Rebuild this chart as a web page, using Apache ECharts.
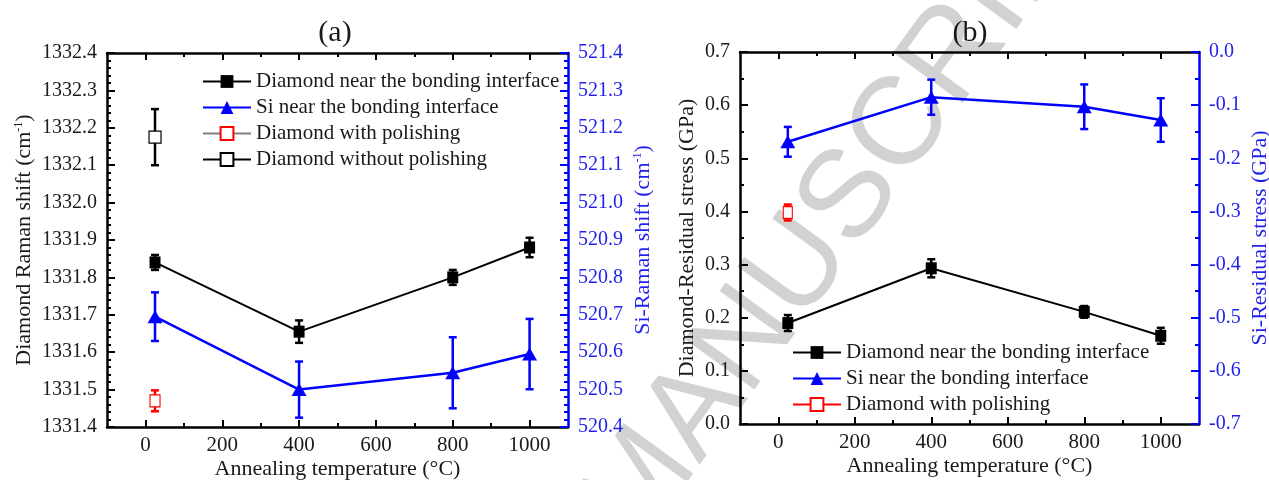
<!DOCTYPE html>
<html><head><meta charset="utf-8">
<script src="https://cdn.jsdelivr.net/npm/echarts@6/dist/echarts.min.js"></script>
<style>html,body{margin:0;padding:0;background:#fff}#c{width:1269px;height:480px}</style>
</head><body><div id="c"></div>
<script>
// ---------- data ----------
const temps = [25, 400, 800, 1000];
const singleTemp = [25];
const xMajorTicks = [0, 200, 400, 600, 800, 1000];
const xMinorTicks = [100, 300, 500, 700, 900];

// panel (a): Raman shift
const aDiamond = [1331.84, 1331.655, 1331.80, 1331.88];
const aDiamondErr = [0.02, 0.03, 0.02, 0.026];
const aSi = [520.695, 520.50, 520.545, 520.595];
const aSiErr = [0.065, 0.075, 0.095, 0.094];
const aPolished = [1331.47];
const aPolishedErr = [0.028];
const aUnpolished = [1332.175];
const aUnpolishedErr = [0.075];

// panel (b): residual stress
const bDiamond = [0.19, 0.293, 0.211, 0.166];
const bDiamondErr = [0.015, 0.017, 0.011, 0.015];
const bSi = [-0.169, -0.085, -0.103, -0.128];
const bSiErr = [0.028, 0.033, 0.042, 0.041];
const bPolished = [0.398];
const bPolishedErr = [0.015];

const N1 = 'Diamond near the bonding interface';
const N2 = 'Si near the bonding interface';
const N3 = 'Diamond with polishing';
const N4 = 'Diamond without polishing';
const B = ' '; // suffix to keep panel (b) legend independent

// ---------- style ----------
const SERIF = '"Liberation Serif", "Times New Roman", serif';
const INK = '#1a1a1a';
const BLUE = '#0000ff';
const BLUE_TXT = '#1f1fee';

function xAxes(g) {
  const base = {
    type: 'value', gridIndex: g, min: -100, max: 1100, interval: 100,
    splitLine: {show: false}, minorTick: {show: false}, minorSplitLine: {show: false}
  };
  return [
    Object.assign({}, base, {
      position: 'bottom',
      name: 'Annealing temperature (°C)', nameLocation: 'middle', nameGap: 31,
      nameTextStyle: {fontFamily: SERIF, fontSize: 22, color: INK},
      nameMoveOverlap: false,
      axisLine: {show: true, onZero: false, lineStyle: {color: '#000', width: 2.5}},
      axisTick: {show: true, inside: true, length: 7, customValues: xMajorTicks, lineStyle: {color: '#000', width: 2}},
      axisLabel: {show: true, margin: 8, customValues: xMajorTicks, fontFamily: SERIF, fontSize: 21, color: INK,
        formatter: v => String(Math.round(v))}
    }),
    Object.assign({}, base, {
      position: 'bottom',
      axisLine: {show: false, onZero: false},
      axisTick: {show: true, inside: true, length: 4, customValues: xMinorTicks, lineStyle: {color: '#000', width: 2}},
      axisLabel: {show: false}
    }),
    Object.assign({}, base, {
      position: 'top',
      axisLine: {show: true, onZero: false, lineStyle: {color: '#000', width: 2.5}},
      axisTick: {show: true, inside: true, length: 7, customValues: xMajorTicks, lineStyle: {color: '#000', width: 2}},
      axisLabel: {show: false}
    }),
    Object.assign({}, base, {
      position: 'top',
      axisLine: {show: false, onZero: false},
      axisTick: {show: true, inside: true, length: 4, customValues: xMinorTicks, lineStyle: {color: '#000', width: 2}},
      axisLabel: {show: false}
    })
  ];
}

function yAxis(g, pos, min, max, minorSplit, name, nameGap, color, txtColor) {
  return {
    type: 'value', gridIndex: g, position: pos, min: min, max: max, interval: 0.1,
    name: name, nameLocation: 'middle', nameGap: nameGap, nameRotate: 90, nameMoveOverlap: false,
    nameTextStyle: {fontFamily: SERIF, fontSize: 22, color: txtColor,
      rich: {sup: {fontFamily: SERIF, fontSize: 12, color: txtColor, verticalAlign: 'top', lineHeight: 22, padding: [0, 0, 8, 0]}}},
    splitLine: {show: false}, minorSplitLine: {show: false},
    axisLine: {show: true, onZero: false, lineStyle: {color: color, width: 2.5}},
    axisTick: {show: true, inside: true, length: 8, lineStyle: {color: color, width: 2}},
    minorTick: {show: true, splitNumber: minorSplit, length: 4, lineStyle: {color: color, width: 2}},
    axisLabel: {show: true, margin: 10, fontFamily: SERIF, fontSize: 20, color: txtColor,
      formatter: v => v.toFixed(1)}
  };
}

function pts(xs, ys) { return xs.map((x, i) => [x, ys[i]]); }

function lineS(name, xs, ys, xi, yi, o) {
  return {
    type: 'line', name: name, xAxisIndex: xi, yAxisIndex: yi, z: 5,
    data: pts(xs, ys), animation: false, silent: true,
    symbol: o.symbol, symbolSize: o.size, showSymbol: true, showAllSymbol: true,
    lineStyle: {color: o.lineColor, width: o.lineWidth},
    itemStyle: {color: o.fill, borderColor: o.stroke, borderWidth: o.borderWidth || 0, opacity: 1},
    emphasis: {disabled: true}
  };
}

function errBar(xs, ys, es, color, lw, xi, yi, cap) {
  return {
    type: 'custom', xAxisIndex: xi, yAxisIndex: yi, z: 4, silent: true, animation: false,
    data: xs.map((x, i) => [x, ys[i] - es[i], ys[i] + es[i]]),
    encode: {x: 0, y: [1, 2]},
    renderItem: (params, api) => {
      const lo = api.coord([api.value(0), api.value(1)]);
      const hi = api.coord([api.value(0), api.value(2)]);
      const st = {stroke: color, lineWidth: lw};
      return {type: 'group', children: [
        {type: 'line', shape: {x1: lo[0], y1: lo[1], x2: hi[0], y2: hi[1]}, style: st},
        {type: 'line', shape: {x1: lo[0] - cap, y1: lo[1], x2: lo[0] + cap, y2: lo[1]}, style: st},
        {type: 'line', shape: {x1: hi[0] - cap, y1: hi[1], x2: hi[0] + cap, y2: hi[1]}, style: st}
      ]};
    }
  };
}

const legendText = {fontFamily: SERIF, fontSize: 21, color: INK};

const option = {
  backgroundColor: '#ffffff',
  animation: false,
  textStyle: {fontFamily: SERIF},
  grid: [
    {left: 107, top: 53, width: 461, height: 374, outerBoundsMode: 'none', containLabel: false},
    {left: 740, top: 52, width: 459, height: 372, outerBoundsMode: 'none', containLabel: false}
  ],
  xAxis: xAxes(0).concat(xAxes(1)),
  yAxis: [
    yAxis(0, 'left', 1331.4, 1332.4, 5, 'Diamond Raman shift (cm{sup|-1})', 72, '#000', INK),
    yAxis(0, 'right', 520.4, 521.4, 5, 'Si-Raman shift (cm{sup|-1})', 64, BLUE, BLUE_TXT),
    yAxis(1, 'left', 0, 0.7, 2, 'Diamond-Residual stress (GPa)', 42, '#000', INK),
    yAxis(1, 'right', -0.7, 0, 2, 'Si-Residual stress (GPa)', 50, BLUE, BLUE_TXT)
  ],
  legend: [
    {data: [N1, N2, N3, N4], left: 202, top: 71, orient: 'vertical', itemWidth: 48, itemHeight: 16,
      itemGap: 5, selectedMode: false, textStyle: legendText, padding: 0},
    {data: [N1 + B, N2 + B, N3 + B], left: 792, top: 342, orient: 'vertical', itemWidth: 48, itemHeight: 16,
      itemGap: 5, selectedMode: false, textStyle: legendText, padding: 0}
  ],
  graphic: [
    {type: 'text', x: 853, y: 195, rotation: 54 * Math.PI / 180, z: -10, silent: true,
      style: {text: 'MANUSCRIPT', font: '125px "Liberation Sans"', fill: '#d2d2d2',
        textAlign: 'center', textVerticalAlign: 'middle'}},
    {type: 'text', x: 335, y: 33, z: 10, silent: true,
      style: {text: '(a)', font: '30px "Liberation Serif"', fill: INK, textAlign: 'center', textVerticalAlign: 'middle'}},
    {type: 'text', x: 970, y: 33, z: 10, silent: true,
      style: {text: '(b)', font: '30px "Liberation Serif"', fill: INK, textAlign: 'center', textVerticalAlign: 'middle'}}
  ],
  series: [
    // panel (a)
    errBar(temps, aDiamond, aDiamondErr, '#000', 2.5, 0, 0, 4),
    errBar(temps, aSi, aSiErr, BLUE, 2.5, 0, 1, 4),
    errBar(singleTemp, aPolished, aPolishedErr, '#ff0000', 2.5, 0, 0, 4),
    errBar(singleTemp, aUnpolished, aUnpolishedErr, '#000', 2.5, 0, 0, 4),
    lineS(N1, temps, aDiamond, 0, 0, {symbol: 'rect', size: [11, 12], lineColor: '#000', lineWidth: 2, fill: '#000', stroke: '#000'}),
    lineS(N2, temps, aSi, 0, 1, {symbol: 'triangle', size: [15, 13], lineColor: BLUE, lineWidth: 2.5, fill: BLUE, stroke: BLUE}),
    lineS(N3, singleTemp, aPolished, 0, 0, {symbol: 'rect', size: [10, 12], lineColor: '#808080', lineWidth: 1.5, fill: '#fff', stroke: '#ff0000', borderWidth: 1.2}),
    lineS(N4, singleTemp, aUnpolished, 0, 0, {symbol: 'rect', size: [12, 12], lineColor: '#000', lineWidth: 1.5, fill: '#fff', stroke: '#000', borderWidth: 1.2}),
    // panel (b)
    errBar(temps, bDiamond, bDiamondErr, '#000', 2.5, 4, 2, 4),
    errBar(temps, bSi, bSiErr, BLUE, 2.5, 4, 3, 4),
    errBar(singleTemp, bPolished, bPolishedErr, '#ff0000', 2.5, 4, 2, 4),
    lineS(N1 + B, temps, bDiamond, 4, 2, {symbol: 'rect', size: [11, 12], lineColor: '#000', lineWidth: 2, fill: '#000', stroke: '#000'}),
    lineS(N2 + B, temps, bSi, 4, 3, {symbol: 'triangle', size: [15, 13], lineColor: BLUE, lineWidth: 2.5, fill: BLUE, stroke: BLUE}),
    lineS(N3 + B, singleTemp, bPolished, 4, 2, {symbol: 'rect', size: [9, 12], lineColor: '#ff0000', lineWidth: 2, fill: '#fff', stroke: '#ff0000', borderWidth: 1.2})
  ]
};

const chart = echarts.init(document.getElementById('c'), null, {renderer: 'canvas'});
chart.setOption(option);
</script>
</body></html>
